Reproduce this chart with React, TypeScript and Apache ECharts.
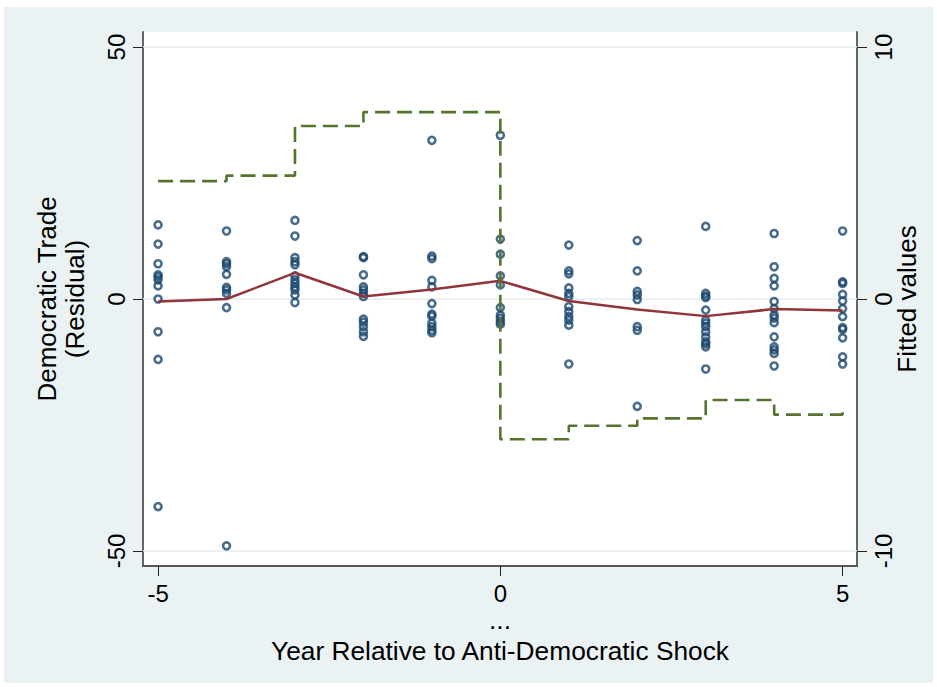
import React, { useEffect, useRef } from "react";
import * as echarts from "echarts";

const years = [-5, -4, -3, -2, -1, 0, 1, 2, 3, 4, 5];

const residM5 = [14.7, 10.9, 7.0, 4.8, 4.4, 3.8, 2.6, 0, -6.5, -12.0, -41.2];
const residM4 = [13.5, 7.4, 7.0, 6.4, 4.9, 2.3, 1.8, 1.1, -1.7, -49.0];
const residM3 = [15.6, 12.5, 8.2, 7.4, 6.8, 4.6, 3.8, 3.1, 2.4, 1.8, 0.8, -0.7];
const residM2 = [8.4, 8.2, 4.8, 2.4, 1.8, 1.1, 0.5, -4.0, -4.6, -5.5, -6.5, -7.4];
const residM1 = [31.5, 8.5, 8.0, 3.7, 2.4, -0.9, -3.0, -3.4, -4.8, -5.5, -6.2, -6.7];
const resid0 = [32.5, 11.9, 8.9, 4.6, 2.8, -1.7, -3.2, -3.8, -4.5, -5.0];
const residP1 = [10.7, 5.6, 5.0, 2.2, 1.1, 0.5, -1.5, -2.5, -3.5, -4.2, -5.2, -12.9];
const residP2 = [11.6, 5.6, 1.5, 0.8, -0.1, -5.5, -6.2, -21.3];
const residP3 = [14.4, 1.1, 0.6, 0.3, -2.2, -4.2, -4.8, -5.5, -6.5, -7.5, -8.5, -8.9, -9.5, -13.9];
const residP4 = [13.0, 6.4, 4.1, 2.6, -0.5, -1.9, -3.2, -3.8, -4.7, -7.5, -9.5, -10.1, -10.8, -13.3];
const residP5 = [13.5, 3.4, 3.1, 0.9, -0.4, -1.9, -3.5, -5.7, -6.0, -7.7, -11.5, -12.9];

const residualsByYear = [residM5, residM4, residM3, residM2, residM1, resid0, residP1, residP2, residP3, residP4, residP5];

const meanResidual = [-0.5, 0.0, 5.2, 0.5, 1.9, 3.6, -0.4, -2.1, -3.4, -2.0, -2.3];
const fittedValues = [4.68, 4.9, 6.87, 7.42, 7.42, -5.57, -5.03, -4.74, -4.01, -4.59, -4.5];

const leftTicks = [-50, 0, 50];
const rightTicks = [-10, 0, 10];
const xTicks = [-5, 0, 5];

const FONT = "'Liberation Sans', Arial, Helvetica, sans-serif";

export default function App() {
  const ref = useRef<HTMLDivElement>(null);
  useEffect(() => {
    if (!ref.current) return;
    const chart = echarts.init(ref.current, undefined, { renderer: "svg" });
    const scatterData: number[][] = [];
    years.forEach((yr, i) => {
      residualsByYear[i].forEach((v) => scatterData.push([yr, v]));
    });
    const axisLineStyle = { color: "#555555", width: 1.8 };
    const tickStyle = { color: "#222222", width: 1 };
    chart.setOption({
      animation: false,
      backgroundColor: "transparent",
      textStyle: { fontFamily: FONT },
      grid: {
        left: 143,
        right: 80,
        top: 32,
        bottom: 121,
        show: true,
        backgroundColor: "#ffffff",
        borderWidth: 0,
      },
      xAxis: {
        type: "value",
        min: -5.22,
        max: 5.21,
        axisLine: { show: true, onZero: false, lineStyle: axisLineStyle },
        axisTick: { show: true, length: 10, lineStyle: tickStyle, customValues: xTicks },
        axisLabel: {
          customValues: xTicks,
          fontSize: 24,
          color: "#000",
          margin: 15,
          fontFamily: FONT,
        },
        splitLine: { show: false },
        name: "...\nYear Relative to Anti-Democratic Shock",
        nameLocation: "middle",
        nameMoveOverlap: false,
        nameGap: 38,
        nameTextStyle: { fontSize: 26.3, color: "#000", lineHeight: 31, fontFamily: FONT, verticalAlign: "top" },
      },
      yAxis: [
        {
          type: "value",
          min: -53,
          max: 53,
          position: "left",
          axisLine: { show: true, onZero: false, lineStyle: axisLineStyle },
          axisTick: { show: true, length: 10, lineStyle: tickStyle, customValues: leftTicks },
          axisLabel: {
            customValues: leftTicks,
            rotate: 90,
            fontSize: 24,
            color: "#000",
            margin: 15,
            fontFamily: FONT,
          },
          splitLine: { show: false },
          name: "Democratic Trade\n(Residual)",
          nameLocation: "middle",
          nameMoveOverlap: false,
          nameRotate: 90,
          nameGap: 54,
          nameTextStyle: { fontSize: 26, color: "#000", lineHeight: 28, fontFamily: FONT },
        },
        {
          type: "value",
          min: -10.6,
          max: 10.6,
          position: "right",
          axisLine: { show: true, onZero: false, lineStyle: axisLineStyle },
          axisTick: { show: true, length: 10, lineStyle: tickStyle, customValues: rightTicks },
          axisLabel: {
            customValues: rightTicks,
            rotate: 90,
            fontSize: 24,
            color: "#000",
            margin: 14,
            fontFamily: FONT,
          },
          splitLine: { show: false },
          name: "Fitted values",
          nameLocation: "middle",
          nameMoveOverlap: false,
          nameRotate: 90,
          nameGap: 36,
          nameTextStyle: { fontSize: 26, color: "#000", lineHeight: 28, fontFamily: FONT },
        },
      ],
      series: [
        {
          type: "line",
          data: [],
          yAxisIndex: 0,
          z: 1,
          markLine: {
            silent: true,
            symbol: "none",
            z: 1,
            label: { show: false },
            lineStyle: { color: "#e4edef", width: 1.5, type: "solid" },
            data: leftTicks.map((t) => ({ yAxis: t })),
          },
        },
        {
          type: "scatter",
          name: "Residual",
          yAxisIndex: 0,
          z: 2,
          data: scatterData,
          symbol: "circle",
          symbolSize: 7,
          itemStyle: { color: "rgba(0,0,0,0)", borderColor: "#1A476F", borderWidth: 2.6 },
        },
        {
          type: "line",
          name: "Mean",
          yAxisIndex: 0,
          z: 3,
          data: years.map((y, i) => [y, meanResidual[i]]),
          showSymbol: false,
          lineStyle: { color: "#90353B", width: 2.5 },
        },
        {
          type: "line",
          name: "Fitted values",
          yAxisIndex: 1,
          z: 4,
          step: "end",
          data: years.map((y, i) => [y, fittedValues[i]]),
          showSymbol: false,
          lineStyle: { color: "#55752F", width: 2.6, type: [15, 7] },
        },
      ],
    });
    return () => chart.dispose();
  }, []);
  return (
    <div style={{ position: "fixed", left: 0, top: 0, width: 937, height: 687, background: "#ffffff" }}>
      <div style={{ position: "absolute", left: 4, top: 7, width: 929, height: 676, background: "#EAF2F3" }} />
      <div ref={ref} style={{ position: "absolute", left: 0, top: 0, width: 937, height: 687 }} />
    </div>
  );
}
